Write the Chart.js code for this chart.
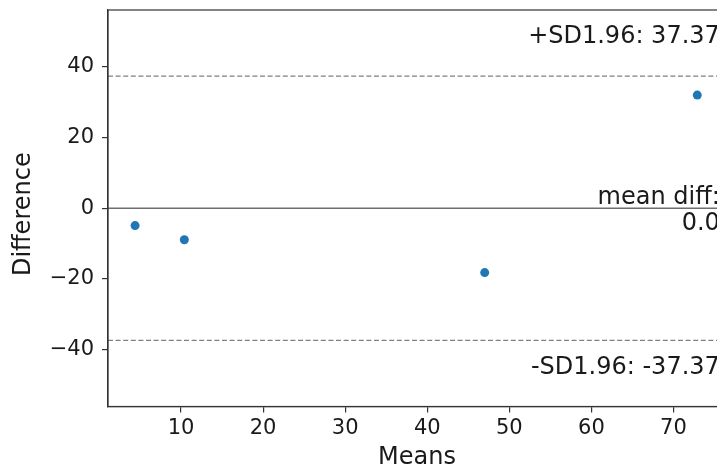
<!DOCTYPE html>
<html>
<head>
<meta charset="utf-8">
<script src="https://cdn.jsdelivr.net/npm/chart.js@4/dist/chart.umd.min.js"></script>
<style>
  html, body { margin: 0; padding: 0; background: #fff; overflow: hidden; }
  #wrap { width: 760px; height: 474px; position: relative; }
</style>
</head>
<body>
<div id="wrap"><canvas id="c"></canvas></div>
<script>
// ---- data ----
const means = [4.4, 10.4, 47.0, 72.9];
const diffs = [-4.9, -8.9, -18.2, 32.0];
const meanDiff = 0.0;
const upperLimit = 37.37;
const lowerLimit = -37.37;
const xLimits = [1.1, 76.4];
const yLimits = [-56.06, 56.06];
const xTicks = [10, 20, 30, 40, 50, 60, 70];
const yTicks = [-40, -20, 0, 20, 40];
const annotationTexts = ['+SD1.96: 37.37', 'mean diff:', '0.0', '-SD1.96: -37.37'];
const axisTitles = ['Means', 'Difference'];

const textColor = '#1a1a1a';
const spineColor = '#333333';

const points = means.map((m, i) => ({ x: m, y: diffs[i] }));
const hline = v => [{ x: xLimits[0], y: v }, { x: xLimits[1], y: v }];

const framePlugin = {
  id: 'frame',
  beforeDraw(chart) {
    const { ctx } = chart;
    ctx.save();
    ctx.fillStyle = '#fff';
    ctx.fillRect(0, 0, chart.width, chart.height);
    ctx.restore();
  },
  afterDraw(chart) {
    const { ctx, chartArea: a } = chart;
    ctx.save();
    ctx.strokeStyle = spineColor;
    ctx.lineWidth = 1.2;
    ctx.strokeRect(a.left, a.top, a.right - a.left, a.bottom - a.top);
    // annotations in axes-fraction coordinates (right aligned at 0.99)
    const fx = a.left + 0.99 * (a.right - a.left);
    const fy = f => a.bottom - f * (a.bottom - a.top);
    ctx.fillStyle = textColor;
    ctx.font = '24px "DejaVu Sans"';
    ctx.textAlign = 'right';
    ctx.textBaseline = 'alphabetic';
    ctx.fillText(annotationTexts[0], fx, fy(0.916));
    ctx.fillText(annotationTexts[1], fx, fy(0.51));
    ctx.fillText(annotationTexts[2], fx, fy(0.445));
    ctx.fillText(annotationTexts[3], fx, fy(0.081));
    // y-axis title
    ctx.translate(24, fy(0.485));
    ctx.rotate(-Math.PI / 2);
    ctx.textAlign = 'center';
    ctx.textBaseline = 'middle';
    ctx.fillText(axisTitles[1], 0, 0);
    ctx.restore();
  }
};

new Chart(document.getElementById('c'), {
  type: 'scatter',
  data: {
    datasets: [
      {
        data: points,
        backgroundColor: '#1f77b4',
        borderWidth: 0,
        pointRadius: 4.5,
        order: 0
      },
      {
        type: 'line',
        data: hline(meanDiff),
        borderColor: '#6e6e6e',
        borderWidth: 1.3,
        pointRadius: 0,
        order: 1
      },
      {
        type: 'line',
        data: hline(upperLimit),
        borderColor: '#808080',
        borderWidth: 1.3,
        borderDash: [5, 2.6],
        pointRadius: 0,
        order: 1
      },
      {
        type: 'line',
        data: hline(lowerLimit),
        borderColor: '#808080',
        borderWidth: 1.3,
        borderDash: [5, 2.6],
        pointRadius: 0,
        order: 1
      }
    ]
  },
  options: {
    responsive: true,
    maintainAspectRatio: false,
    animation: false,
    events: [],
    layout: { padding: { top: 10, right: 34, bottom: 0, left: 0 } },
    plugins: { legend: { display: false }, tooltip: { enabled: false } },
    scales: {
      x: {
        type: 'linear',
        min: xLimits[0],
        max: xLimits[1],
        afterFit: s => { s.height = 67.5; s.paddingLeft = 0; s.paddingRight = 0; },
        afterBuildTicks: s => { s.ticks = xTicks.map(v => ({ value: v })); },
        grid: { drawOnChartArea: false, drawTicks: true, tickLength: 6, color: spineColor, lineWidth: 1.2 },
        border: { display: true, color: spineColor, width: 1.2 },
        ticks: { color: textColor, font: { family: 'DejaVu Sans', size: 21 }, padding: 3, maxRotation: 0 },
        title: { display: true, text: axisTitles[0], color: textColor, font: { family: 'DejaVu Sans', size: 24 }, padding: { top: 0, bottom: 2 } }
      },
      y: {
        type: 'linear',
        min: yLimits[0],
        max: yLimits[1],
        afterFit: s => { s.width = 108; s.paddingTop = 0; s.paddingBottom = 0; },
        afterBuildTicks: s => { s.ticks = yTicks.map(v => ({ value: v })); },
        grid: { drawOnChartArea: false, drawTicks: true, tickLength: 6, color: spineColor, lineWidth: 1.2 },
        border: { display: true, color: spineColor, width: 1.2 },
        ticks: { color: textColor, font: { family: 'DejaVu Sans', size: 21 }, padding: 8,
                 callback: v => (v < 0 ? '\u2212' + Math.abs(v) : String(v)) },
        title: { display: false }
      }
    }
  },
  plugins: [framePlugin]
});
</script>
</body>
</html>
